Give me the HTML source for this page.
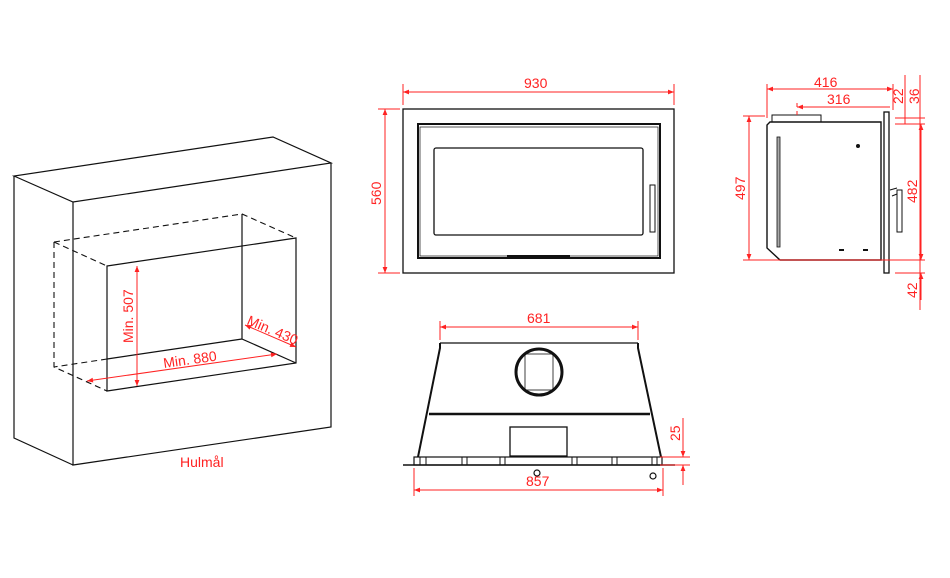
<!DOCTYPE html>
<html><head><meta charset="utf-8"><style>
html,body{margin:0;padding:0;background:#fff;}
svg{display:block;}
text{font-family:"Liberation Sans",sans-serif;fill:#f22;font-size:14px;}
</style></head><body>
<svg width="950" height="578" viewBox="0 0 950 578" xmlns="http://www.w3.org/2000/svg">
<defs>
<marker id="a" viewBox="0 0 10 10" refX="10" refY="5" markerWidth="9" markerHeight="6" orient="auto-start-reverse"><path d="M0,1 L10,5 L0,9 z" fill="#f22"/></marker>
</defs>
<!-- ISO -->
<g fill="none" stroke="#111" stroke-width="1.2">
<path d="M14,176 L73,202 L331,163 L273,137 Z"/>
<path d="M73,202 L73,465 L331,427 L331,163"/>
<path d="M14,176 L14,438 L73,465"/>
<path d="M107,266 L296,238 L296,363 L107,391 Z"/>
<path d="M242,214 L242,339 L296,363"/>
<path d="M242,339 L107,359"/>
</g>
<g fill="none" stroke="#111" stroke-width="1.1" stroke-dasharray="6,4">
<path d="M54,242 L242,214 L296,238"/>
<path d="M54,242 L54,367 L107,391"/>
<path d="M54,242 L107,266"/>
<path d="M107,359 L54,367"/>
</g>
<g stroke="#f22" stroke-width="1" fill="none">
<line x1="137" y1="266" x2="137" y2="386" marker-start="url(#a)" marker-end="url(#a)"/>
<line x1="87" y1="381" x2="277" y2="354" marker-start="url(#a)" marker-end="url(#a)"/>
<line x1="245" y1="325" x2="296" y2="347" marker-start="url(#a)" marker-end="url(#a)"/>
</g>
<text transform="translate(133,343) rotate(-90)">Min. 507</text>
<text transform="translate(164,368) rotate(-8)">Min. 880</text>
<text transform="translate(246,324) rotate(23)">Min. 430</text>
<text x="180" y="467">Hulmål</text>

<!-- FRONT -->
<g fill="none" stroke="#111">
<rect x="403" y="109" width="271" height="164" stroke-width="1.3"/>
<rect x="418" y="124" width="242" height="134" stroke-width="2"/>
<rect x="420" y="127" width="238" height="129" stroke-width="0.7"/>
<rect x="434" y="148" width="209" height="87" rx="2" stroke-width="1.3"/>
<rect x="650" y="185" width="5" height="47" stroke-width="1"/>
<line x1="507" y1="256" x2="570" y2="256" stroke-width="2"/>
</g>
<g stroke="#f22" stroke-width="1" fill="none">
<line x1="403" y1="84" x2="403" y2="105"/><line x1="674" y1="84" x2="674" y2="105"/>
<line x1="403" y1="92" x2="674" y2="92" marker-start="url(#a)" marker-end="url(#a)"/>
<line x1="378" y1="109" x2="400" y2="109"/><line x1="378" y1="273" x2="400" y2="273"/>
<line x1="385" y1="109" x2="385" y2="273" marker-start="url(#a)" marker-end="url(#a)"/>
</g>
<text x="524" y="88">930</text>
<text transform="translate(381,205) rotate(-90)">560</text>

<!-- SIDE -->
<g fill="none" stroke="#111">
<path d="M772,122 L772,115 L821,115 L821,122" stroke-width="1"/>
<path d="M770,122 L881,122 L881,260 L780,260 L767,248 L767,125 Z" stroke-width="1.4"/>
<rect x="777" y="137" width="3" height="110" fill="#aaa" stroke-width="0.8"/>
<rect x="884" y="112" width="5" height="161" stroke-width="1.3"/>
<rect x="897" y="190" width="5" height="42" stroke-width="1"/>
<path d="M890,190 L897,188 M892,196 L897,194" stroke-width="1"/>
</g>
<g fill="#111"><circle cx="858" cy="146" r="2"/><rect x="839" y="249" width="5" height="2"/><rect x="863" y="249" width="5" height="2"/></g>
<g stroke="#f22" stroke-width="1" fill="none">
<line x1="767" y1="84" x2="767" y2="118"/><line x1="893" y1="84" x2="893" y2="110"/>
<line x1="767" y1="89" x2="893" y2="89" marker-start="url(#a)" marker-end="url(#a)"/>
<line x1="797" y1="103" x2="797" y2="118" stroke-dasharray="4,4"/>
<line x1="797" y1="107" x2="890" y2="107" marker-start="url(#a)"/>
<line x1="743" y1="116" x2="765" y2="116"/><line x1="743" y1="260" x2="893" y2="260"/>
<line x1="749" y1="116" x2="749" y2="260" marker-start="url(#a)" marker-end="url(#a)"/>
<line x1="905" y1="75" x2="905" y2="124"/><line x1="920" y1="75" x2="920" y2="310"/>
<line x1="895" y1="118" x2="925" y2="118"/><line x1="895" y1="124" x2="925" y2="124"/>
<line x1="895" y1="273" x2="925" y2="273"/><line x1="893" y1="260" x2="925" y2="260"/>
<line x1="921" y1="124" x2="921" y2="260" marker-start="url(#a)" marker-end="url(#a)"/>
<line x1="921" y1="300" x2="921" y2="273" marker-end="url(#a)"/>
</g>
<text x="814" y="87">416</text>
<text x="827" y="104">316</text>
<text transform="translate(903,104) rotate(-90)">22</text>
<text transform="translate(919,104) rotate(-90)">36</text>
<text transform="translate(745,200) rotate(-90)">497</text>
<text transform="translate(917,203) rotate(-90)">482</text>
<text transform="translate(917,298) rotate(-90)">42</text>

<!-- TOP -->
<g fill="none" stroke="#111">
<line x1="440" y1="343" x2="638" y2="343" stroke-width="1.2"/>
<path d="M440,343 L440,348 L418,457 M638,343 L638,348 L661,457" stroke-width="2"/>
<line x1="429" y1="414" x2="650" y2="414" stroke-width="2.5"/>
<circle cx="539" cy="372" r="23" stroke-width="3"/>
<rect x="525" y="354" width="28" height="36" stroke-width="0.8"/>
<rect x="510" y="427" width="57" height="29" stroke-width="1.3"/>
<rect x="414" y="457" width="248" height="8" stroke-width="1.2"/>
<path d="M420,457 V465 M426,457 V465 M462,457 V465 M467,457 V465 M500,457 V465 M505,457 V465 M572,457 V465 M577,457 V465 M612,457 V465 M617,457 V465 M652,457 V465 M657,457 V465" stroke-width="1"/>
<line x1="403" y1="465" x2="675" y2="465" stroke-width="1.5"/>
<circle cx="537" cy="473" r="3" stroke-width="1.2"/>
<circle cx="653" cy="476" r="3" stroke-width="1.2"/>
</g>
<g stroke="#f22" stroke-width="1" fill="none">
<line x1="440" y1="321" x2="440" y2="340"/><line x1="638" y1="321" x2="638" y2="340"/>
<line x1="440" y1="327" x2="638" y2="327" marker-start="url(#a)" marker-end="url(#a)"/>
<line x1="414" y1="468" x2="414" y2="496"/><line x1="663" y1="468" x2="663" y2="496"/>
<line x1="414" y1="490" x2="663" y2="490" marker-start="url(#a)" marker-end="url(#a)"/>
<line x1="660" y1="457" x2="690" y2="457"/><line x1="660" y1="465" x2="690" y2="465"/>
<line x1="683" y1="418" x2="683" y2="457" marker-end="url(#a)"/>
<line x1="683" y1="485" x2="683" y2="465" marker-end="url(#a)"/>
</g>
<text x="527" y="323">681</text>
<text x="526" y="486">857</text>
<text transform="translate(680,441) rotate(-90)">25</text>
</svg>
</body></html>
